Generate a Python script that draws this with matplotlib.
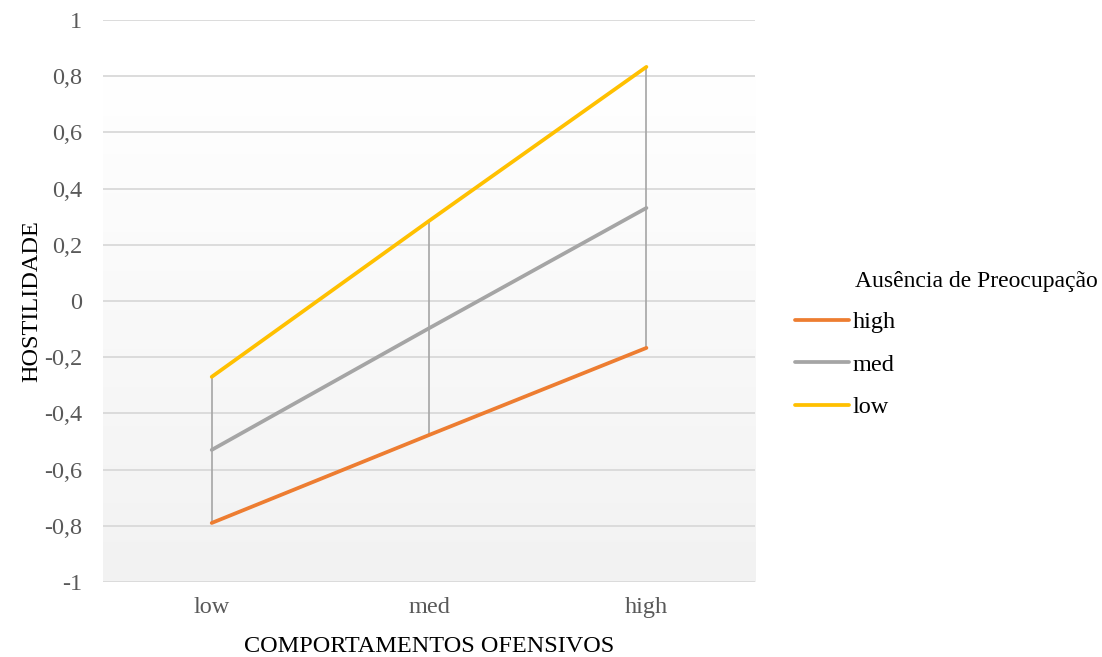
import matplotlib
matplotlib.use('Agg')
import matplotlib.pyplot as plt
import numpy as np

categories = ['low', 'med', 'high']
series_names = ['high', 'med', 'low']
hostility_high = [-0.79, -0.477, -0.167]
hostility_med = [-0.53, -0.097, 0.331]
hostility_low = [-0.27, 0.285, 0.833]
y_ticks = [-1, -0.8, -0.6, -0.4, -0.2, 0, 0.2, 0.4, 0.6, 0.8, 1]

colors = ['#ED7D31', '#A5A5A5', '#FFC000']

plt.rcParams['font.family'] = ['Liberation Serif', 'DejaVu Serif']

fig = plt.figure(figsize=(11.02, 6.57), dpi=100)
ax = fig.add_axes([0.0935, 0.1142, 0.5917, 0.8554])

x = np.arange(len(categories))

# vertical background gradient, white on top fading to light gray
grad = np.linspace(0, 1, 256).reshape(-1, 1)
grad = np.clip((grad - 0.1) / 0.9, 0, 1)
c_top = np.array([1.0, 1.0, 1.0])
c_bot = np.array([0xf2, 0xf2, 0xf2]) / 255
img = c_top + (c_bot - c_top) * grad[..., None]
ax.imshow(img, extent=[-0.5, len(categories) - 0.5, -1, 1], aspect='auto',
          origin='upper', zorder=0)
ax.set_xlim(-0.5, len(categories) - 0.5)
ax.set_ylim(-1, 1)

for t in y_ticks:
    ax.axhline(t, color='#d9d9d9', lw=1.3, zorder=1)

# high-low lines at each category
all_series = np.array([hostility_high, hostility_med, hostility_low])
ax.vlines(x, all_series.min(axis=0), all_series.max(axis=0), color='#A5A5A5',
          lw=1.2, zorder=2)

handles = []
for vals, name, col in zip([hostility_high, hostility_med, hostility_low], series_names, colors):
    h, = ax.plot(x, vals, color=col, lw=2.7, solid_capstyle='round', zorder=3, label=name)
    handles.append(h)

ax.set_xticks(x, categories)
ax.set_yticks(y_ticks, [f'{t:g}'.replace('.', ',') for t in y_ticks])
ax.tick_params(length=0, labelsize=17.5, labelcolor='#595959')
ax.tick_params(axis='y', pad=15)
ax.tick_params(axis='x', pad=11)
for s in ax.spines.values():
    s.set_visible(False)

ax.set_xlabel('COMPORTAMENTOS OFENSIVOS', fontsize=17.5, color='black', labelpad=12.5)
ax.set_ylabel('HOSTILIDADE', fontsize=17.5, color='black', labelpad=1)

fig.text(0.7755, 0.572, 'Ausência de Preocupação', fontsize=17, va='center', ha='left')
fig.legend(handles=handles, loc='upper left', bbox_to_anchor=(0.7215, 0.526),
           frameon=False, fontsize=17.5, handlelength=2.22, handletextpad=0.16,
           labelspacing=0.84, borderaxespad=0, borderpad=0)

fig.savefig('out.png', dpi=100, facecolor='white')
